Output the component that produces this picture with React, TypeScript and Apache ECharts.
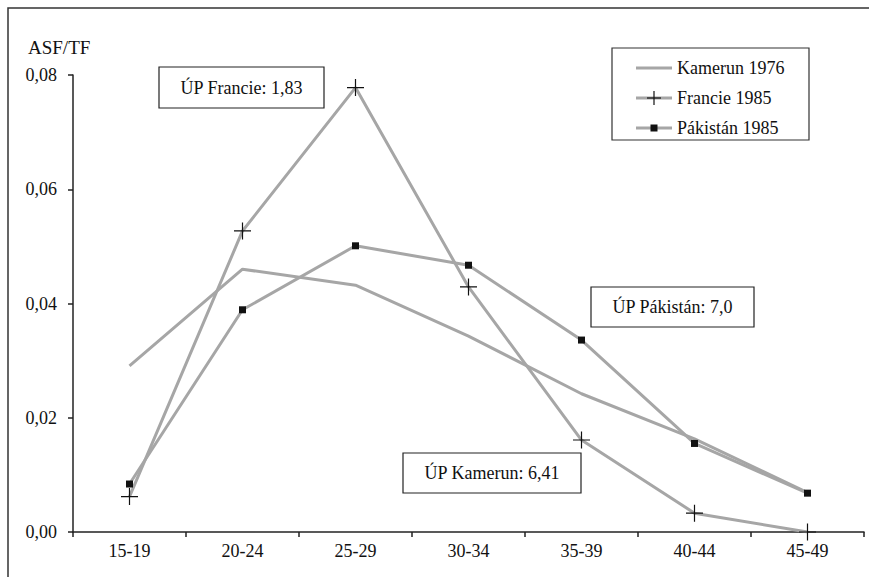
import React, { useEffect, useRef } from "react";
import * as echarts from "echarts";

const categories = ["15-19", "20-24", "25-29", "30-34", "35-39", "40-44", "45-49"];
const kamerun1976 = [0.0291, 0.046, 0.0432, 0.0343, 0.0242, 0.0163, 0.0069];
const francie1985 = [0.0062, 0.0527, 0.0778, 0.0429, 0.0161, 0.0033, 0.0];
const pakistan1985 = [0.0084, 0.0389, 0.0501, 0.0467, 0.0336, 0.0155, 0.0068];
const seriesNames = ["Kamerun 1976", "Francie 1985", "Pákistán 1985"];
const annotations = ["ÚP Francie: 1,83", "ÚP Kamerun: 6,41", "ÚP Pákistán: 7,0"];
const yTitle = "ASF/TF";

const FONT = "Liberation Serif, Times New Roman, serif";
const LINE = "#a6a6a6";
const CROSS = "path://M0,9.3h20v1.4h-20z M9.3,0h1.4v20h-1.4z";

export default function App() {
  const ref = useRef<HTMLDivElement>(null);
  useEffect(() => {
    document.body.style.margin = "0";
    const chart = echarts.init(ref.current!, null, { renderer: "svg" });
    const box = (x: number, y: number, w: number, h: number, text: string) => ({
      type: "group",
      z: 100,
      children: [
        { type: "rect", shape: { x, y, width: w, height: h }, style: { fill: "#fff", stroke: "#222", lineWidth: 1.2 } },
        {
          type: "text",
          x: x + w / 2,
          y: y + h / 2,
          style: { text, fontSize: 18, fontFamily: FONT, fill: "#111", align: "center", verticalAlign: "middle" },
        },
      ],
    });
    const legendRow = (i: number) => {
      const cy = 68 + i * 30;
      const children: any[] = [
        { type: "line", shape: { x1: 636, y1: cy, x2: 672, y2: cy }, style: { stroke: LINE, lineWidth: 3 } },
        {
          type: "text",
          x: 677,
          y: cy,
          style: { text: seriesNames[i], fontSize: 18, fontFamily: FONT, fill: "#111", verticalAlign: "middle" },
        },
      ];
      if (i === 1) {
        children.push(
          { type: "line", shape: { x1: 647, y1: cy, x2: 661, y2: cy }, style: { stroke: "#111", lineWidth: 1.2 } },
          { type: "line", shape: { x1: 654, y1: cy - 7, x2: 654, y2: cy + 7 }, style: { stroke: "#111", lineWidth: 1.2 } }
        );
      }
      if (i === 2) {
        children.push({ type: "rect", shape: { x: 650.5, y: cy - 3.5, width: 7, height: 7 }, style: { fill: "#111" } });
      }
      return { type: "group", z: 60, children };
    };
    chart.setOption({
      animation: false,
      backgroundColor: "#fff",
      grid: { left: 73, right: 5, top: 75, bottom: 45, containLabel: false },
      xAxis: {
        type: "category",
        data: categories,
        boundaryGap: true,
        axisLine: { lineStyle: { color: "#222", width: 1.5 } },
        axisTick: { show: true, length: 5, alignWithLabel: false, lineStyle: { color: "#222", width: 1.5 } },
        axisLabel: { color: "#111", fontSize: 18, fontFamily: FONT, margin: 10 },
        splitLine: { show: false },
      },
      yAxis: {
        type: "value",
        min: 0,
        max: 0.08,
        interval: 0.02,
        axisLine: { show: true, lineStyle: { color: "#222", width: 1.5 } },
        axisTick: { show: true, length: 5, lineStyle: { color: "#222", width: 1.5 } },
        axisLabel: {
          color: "#111",
          fontSize: 18,
          fontFamily: FONT,
          margin: 16,
          formatter: (v: number) => v.toFixed(2).replace(".", ","),
        },
        splitLine: { show: false },
      },
      series: [
        {
          name: seriesNames[0],
          type: "line",
          data: kamerun1976,
          symbol: "none",
          lineStyle: { color: LINE, width: 3 },
          itemStyle: { color: LINE },
          z: 2,
        },
        {
          name: seriesNames[1],
          type: "line",
          data: francie1985,
          symbol: CROSS,
          symbolSize: 17,
          showAllSymbol: true,
          lineStyle: { color: LINE, width: 3 },
          itemStyle: { color: "#111" },
          z: 3,
        },
        {
          name: seriesNames[2],
          type: "line",
          data: pakistan1985,
          symbol: "rect",
          symbolSize: 7,
          showAllSymbol: true,
          lineStyle: { color: LINE, width: 3 },
          itemStyle: { color: "#111" },
          z: 4,
        },
      ],
      graphic: [
        { type: "rect", z: 0, shape: { x: 8, y: 8, width: 900, height: 600 }, style: { fill: "none", stroke: "#333", lineWidth: 1.5 } },
        {
          type: "text",
          x: 28,
          y: 47,
          style: { text: yTitle, fontSize: 19, fontFamily: FONT, fill: "#111", verticalAlign: "middle" },
        },
        { type: "rect", z: 50, shape: { x: 612, y: 48, width: 197, height: 92 }, style: { fill: "none", stroke: "#333", lineWidth: 1.2 } },
        legendRow(0),
        legendRow(1),
        legendRow(2),
        box(159, 67, 165, 41, annotations[0]),
        box(403, 453, 178, 40, annotations[1]),
        box(591, 287, 163, 40, annotations[2]),
      ],
    });
    return () => chart.dispose();
  }, []);
  return <div ref={ref} style={{ width: 869, height: 577 }} />;
}
